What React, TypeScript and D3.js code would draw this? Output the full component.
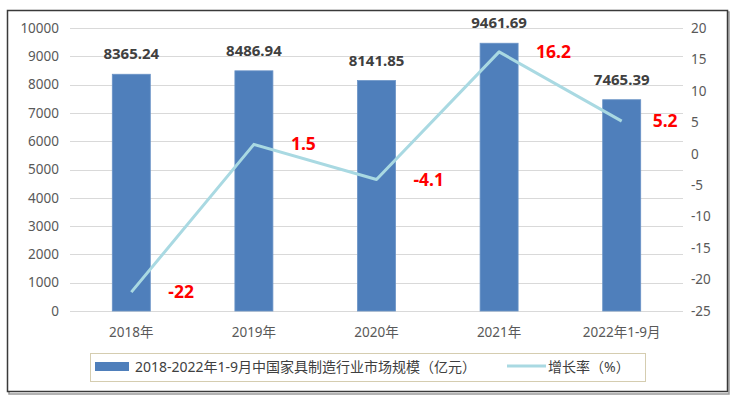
import React, { useEffect, useRef } from 'react';
import * as d3 from 'd3';

const categories = ['2018年', '2019年', '2020年', '2021年', '2022年1-9月'];
const marketSize = [8365.24, 8486.94, 8141.85, 9461.69, 7465.39];
const growthRate = [-22, 1.5, -4.1, 16.2, 5.2];
const leftTicks = [0, 1000, 2000, 3000, 4000, 5000, 6000, 7000, 8000, 9000, 10000];
const rightTicks = [-25, -20, -15, -10, -5, 0, 5, 10, 15, 20];
const barName = '2018-2022年1-9月中国家具制造行业市场规模（亿元）';
const lineName = '增长率（%）';

const FONT = "'Noto Sans', 'Noto Sans CJK SC', sans-serif";

export default function App() {
  const ref = useRef<SVGSVGElement>(null);

  useEffect(() => {
    const svg = d3.select(ref.current);
    svg.selectAll('*').remove();

    const left = 70, right = 683, top = 28, bottom = 311;

    const x = d3.scaleBand().domain(categories).range([left, right]).paddingInner(0.69).paddingOuter(0.345);
    const yL = d3.scaleLinear().domain([0, 10000]).range([bottom, top]);
    const yR = d3.scaleLinear().domain([-25, 20]).range([bottom, top]);

    // outer frame with a little shadow
    svg.append('rect').attr('x', 9).attr('y', 12).attr('width', 720).attr('height', 382)
      .attr('fill', 'none').attr('stroke', '#9a9a9a').attr('stroke-width', 1.5);
    svg.append('rect').attr('x', 7.5).attr('y', 10.5).attr('width', 720).attr('height', 381)
      .attr('fill', '#fff').attr('stroke', '#3a3a3a').attr('stroke-width', 1.5);

    // gridlines
    svg.append('g').selectAll('line').data(leftTicks).enter().append('line')
      .attr('x1', left).attr('x2', right)
      .attr('y1', (d) => Math.round(yL(d)) + 0.5).attr('y2', (d) => Math.round(yL(d)) + 0.5)
      .attr('stroke', '#d9d9d9').attr('stroke-width', 1);

    // left axis labels
    svg.append('g').selectAll('text').data(leftTicks).enter().append('text')
      .attr('x', 59).attr('y', (d) => yL(d)).attr('dy', '0.35em')
      .attr('text-anchor', 'end').attr('font-size', 13.5).attr('fill', '#595959')
      .attr('font-family', FONT).text((d) => d);

    // right axis labels
    svg.append('g').selectAll('text').data(rightTicks).enter().append('text')
      .attr('x', 691).attr('y', (d) => yR(d)).attr('dy', '0.35em')
      .attr('text-anchor', 'start').attr('font-size', 13.5).attr('fill', '#595959')
      .attr('font-family', FONT).text((d) => d);

    // x labels
    svg.append('g').selectAll('text').data(categories).enter().append('text')
      .attr('x', (d) => x(d)! + x.bandwidth() / 2).attr('y', 332).attr('dy', '0.35em')
      .attr('text-anchor', 'middle').attr('font-size', 13.5).attr('fill', '#595959')
      .attr('font-family', FONT).text((d) => d);

    // bars
    svg.append('g').selectAll('rect').data(marketSize).enter().append('rect')
      .attr('x', (d, i) => x(categories[i])!)
      .attr('y', (d) => yL(d))
      .attr('width', x.bandwidth())
      .attr('height', (d) => bottom - yL(d))
      .attr('fill', '#4f7fbb').attr('stroke', '#6a93c6').attr('stroke-width', 0.8);

    // bar labels
    svg.append('g').selectAll('text').data(marketSize).enter().append('text')
      .attr('x', (d, i) => x(categories[i])! + x.bandwidth() / 2)
      .attr('y', (d) => yL(d) - 15)
      .attr('text-anchor', 'middle').attr('font-size', 15).attr('font-weight', 'bold')
      .attr('fill', '#404040').attr('font-family', FONT)
      .text((d) => d.toFixed(2));

    // growth line
    const line = d3.line<number>()
      .x((d, i) => x(categories[i])! + x.bandwidth() / 2)
      .y((d) => yR(d));
    svg.append('path').datum(growthRate)
      .attr('d', line)
      .attr('fill', 'none').attr('stroke', '#a9d9e2').attr('stroke-width', 3)
      .attr('stroke-linejoin', 'round');

    // line labels
    svg.append('g').selectAll('text').data(growthRate).enter().append('text')
      .attr('x', (d, i) => x(categories[i])! + x.bandwidth() / 2 + (i === 4 ? 31 : 37))
      .attr('y', (d) => yR(d)).attr('dy', '0.35em')
      .attr('text-anchor', 'start').attr('font-size', 17.5).attr('font-weight', 'bold')
      .attr('fill', '#ff0000').attr('font-family', FONT)
      .text((d) => d);

    // legend
    const lg = svg.append('g');
    lg.append('rect').attr('x', 90.5).attr('y', 353.5).attr('width', 555).attr('height', 28)
      .attr('fill', '#fff').attr('stroke', '#d5cdb0').attr('stroke-width', 1);
    lg.append('rect').attr('x', 95).attr('y', 362).attr('width', 34).attr('height', 9)
      .attr('fill', '#4f7fbb');
    lg.append('text').attr('x', 135).attr('y', 367).attr('dy', '0.35em')
      .attr('font-size', 14).attr('fill', '#404040').attr('font-family', FONT).text(barName);
    lg.append('line').attr('x1', 507).attr('x2', 546).attr('y1', 366).attr('y2', 366)
      .attr('stroke', '#a9d9e2').attr('stroke-width', 3);
    lg.append('text').attr('x', 548).attr('y', 367).attr('dy', '0.35em')
      .attr('font-size', 14).attr('fill', '#404040').attr('font-family', FONT).text(lineName);
  }, []);

  return (
    <svg ref={ref} width={737} height={399}
      style={{ position: 'absolute', left: 0, top: 0, background: '#fff' }} />
  );
}
